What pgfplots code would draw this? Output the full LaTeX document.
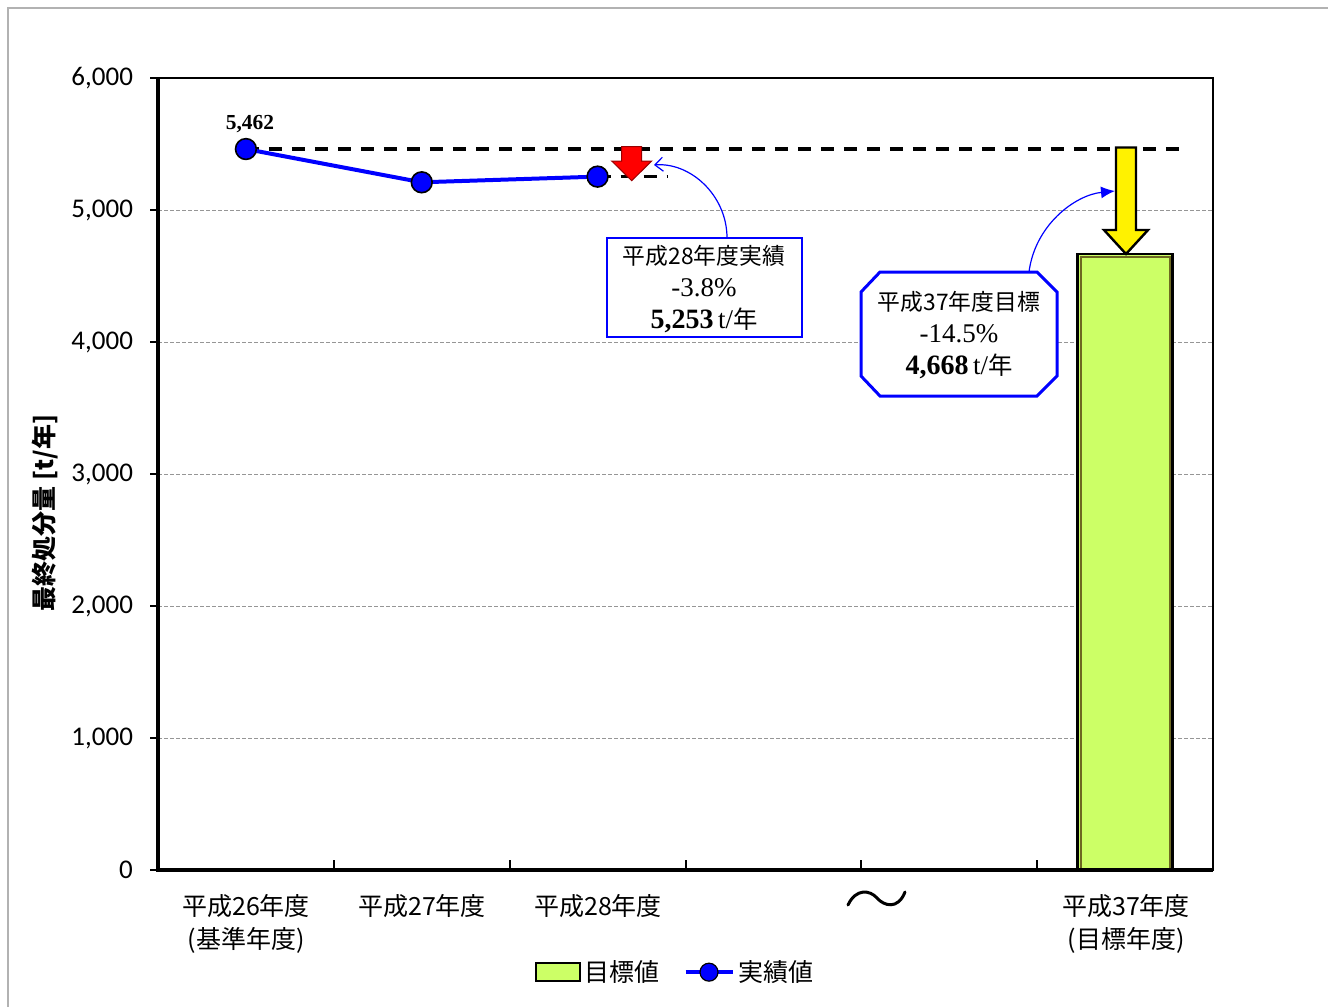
\documentclass[border=0pt]{standalone}
\usepackage{fontspec}
\setmainfont{Carlito}
\newfontfamily\jp{Noto Sans CJK JP}
\newfontfamily\tms{Liberation Serif}
\usepackage{pgfplots}
\pgfplotsset{compat=1.18}
\usetikzlibrary{arrows.meta}
\definecolor{barfill}{RGB}{204,255,102}
\definecolor{gridgray}{RGB}{150,150,150}
\newcommand{\fs}[1]{\fontsize{#1}{#1}\selectfont}
\begin{document}
\begin{tikzpicture}
\useasboundingbox (0,0) rectangle (664pt,-503.5pt);
\draw[gray!60, line width=0.6pt] (4pt,-503.5pt) -- (4pt,-4pt) -- (664pt,-4pt);
\begin{axis}[
  at={(79pt,-435pt)}, anchor=south west,
  width=527.5pt, height=396pt, scale only axis,
  xmin=-0.5, xmax=5.5, ymin=0, ymax=6000,
  xtick=\empty,
  ytick={0,1000,2000,3000,4000,5000,6000},
  ytick pos=left, tick align=outside, major tick length=4pt,
  tick style={black, line width=1pt},
  scaled y ticks=false,
  yticklabel style={font=\fs{13.5}, xshift=-5pt, /pgf/number format/assume math mode=true, /pgf/number format/1000 sep={,}},
  ymajorgrids, grid style={gridgray, dash pattern=on 2pt off 1pt, line width=0.5pt},
  axis line style={black, line width=1.2pt},
  clip=false,
  legend style={at={(0.491,-0.129)}, anchor=center, draw=none, fill=none, legend columns=2,
    font=\jp\fs{12.5}, /tikz/every even column/.append style={column sep=10pt}},
]
\addplot[ybar, bar width=47.5pt, fill=barfill, draw=black, line width=1.2pt,
  legend image code/.code={\draw[fill=barfill,draw=black,line width=1pt] (0pt,-4.5pt) rectangle (22pt,4.5pt);}]
  coordinates {(5,4668)};
\addlegendentry{目標値}
\draw[black, line width=1.7pt, dash pattern=on 6.5pt off 5pt] (axis cs:0,5462) -- (axis cs:5.31,5462);
\draw[black, line width=1.7pt, dash pattern=on 6.5pt off 5pt] (axis cs:2,5253) -- (axis cs:2.40,5253);
\addplot[blue, line width=2pt, mark=*, mark size=5.2pt, mark options={fill=blue, draw=black, line width=0.8pt},
  legend image code/.code={\draw[blue,line width=2pt] (0pt,0pt) -- (23.5pt,0pt); \draw[fill=blue,draw=black,line width=0.6pt] (11.75pt,0pt) circle (4.5pt);}]
  coordinates {(0,5462) (1,5210) (2,5253)};
\addlegendentry{実績値}
\draw[line width=1pt] (axis cs:0.5,0) -- (axis cs:0.5,75);
\draw[line width=1pt] (axis cs:1.5,0) -- (axis cs:1.5,75);
\draw[line width=1pt] (axis cs:2.5,0) -- (axis cs:2.5,75);
\draw[line width=1pt] (axis cs:3.5,0) -- (axis cs:3.5,75);
\draw[line width=1pt] (axis cs:4.5,0) -- (axis cs:4.5,75);
\draw[black, line width=1.6pt] (axis cs:-0.5,6000) -- (axis cs:-0.5,0) -- (axis cs:5.5,0);
\end{axis}
\begin{scope}[x=0.5pt,y=-0.5pt]
% y label
\node[rotate=90, font=\jp\bfseries\fs{12.5}] at (45,513) {最終処分量 [t/年]};
% x labels
\node[font=\jp\fs{12.5}] at (246,906) {平成26年度};
\node[font=\jp\fs{12.5}] at (246,940) {(基準年度)};
\node[font=\jp\fs{12.5}] at (422,906) {平成27年度};
\node[font=\jp\fs{12.5}] at (598,906) {平成28年度};
\node[font=\jp\fs{12.5}] at (1126,906) {平成37年度};
\node[font=\jp\fs{12.5}] at (1126,940) {(目標年度)};
% tilde
\draw[line width=1.5pt, line cap=round] (848,905) .. controls (856,888) and (870,890) .. (877,898) .. controls (884,906) and (898,910) .. (905,892);
% value label
\node[font=\tms\bfseries\fs{10.7}] at (250,124) {5,462};
% red arrow
\draw[fill=red, draw=red!60!black, line width=0.5pt] (621.7,146.7) -- (641.7,146.7) -- (641.7,161) -- (651.7,161) -- (631.7,180.7) -- (611.7,161) -- (621.7,161) -- cycle;
% yellow arrow
\draw[fill=yellow, draw=black, line width=1.2pt, line join=miter] (1116,147.5) -- (1136,147.5) -- (1136,230) -- (1148,230) -- (1126,254) -- (1104,230) -- (1116,230) -- cycle;
% inner line of bar
\draw[olive!70!black, line width=0.6pt] (1081,868) -- (1081,257) -- (1170,257) -- (1170,868);
% callout 1
\draw[blue, line width=0.6pt, fill=white] (607,238) rectangle (802,337);
\draw[blue, line width=0.6pt, -{Straight Barb[length=4pt,width=7pt]}] (727,238) .. controls (727,195) and (690,162) .. (654,165);
\node[font=\jp\fs{11.4}] at (704,256) {平成28年度実績};
\node[font=\tms\fs{13.5}] at (704,288) {-3.8\%};
\node at (704,320) {{\tms\bfseries\fs{14}5,253} {\tms\fs{13.5}t/}{\jp\fs{12.2}年}};
% callout 2
\draw[blue, line width=1.5pt, fill=white] (880,272) -- (1037,272) -- (1057,292) -- (1057,376) -- (1037,396) -- (880,396) -- (861,376) -- (861,292) -- cycle;
\draw[blue, line width=0.6pt, -{Latex[length=7pt,width=6pt]}] (1029,272) .. controls (1035,225) and (1075,195) .. (1115,191);
\node[font=\jp\fs{11.4}] at (959,302) {平成37年度目標};
\node[font=\tms\fs{13.5}] at (959,334) {-14.5\%};
\node at (959,366) {{\tms\bfseries\fs{14}4,668} {\tms\fs{13.5}t/}{\jp\fs{12.2}年}};
\end{scope}
\end{tikzpicture}
\end{document}
